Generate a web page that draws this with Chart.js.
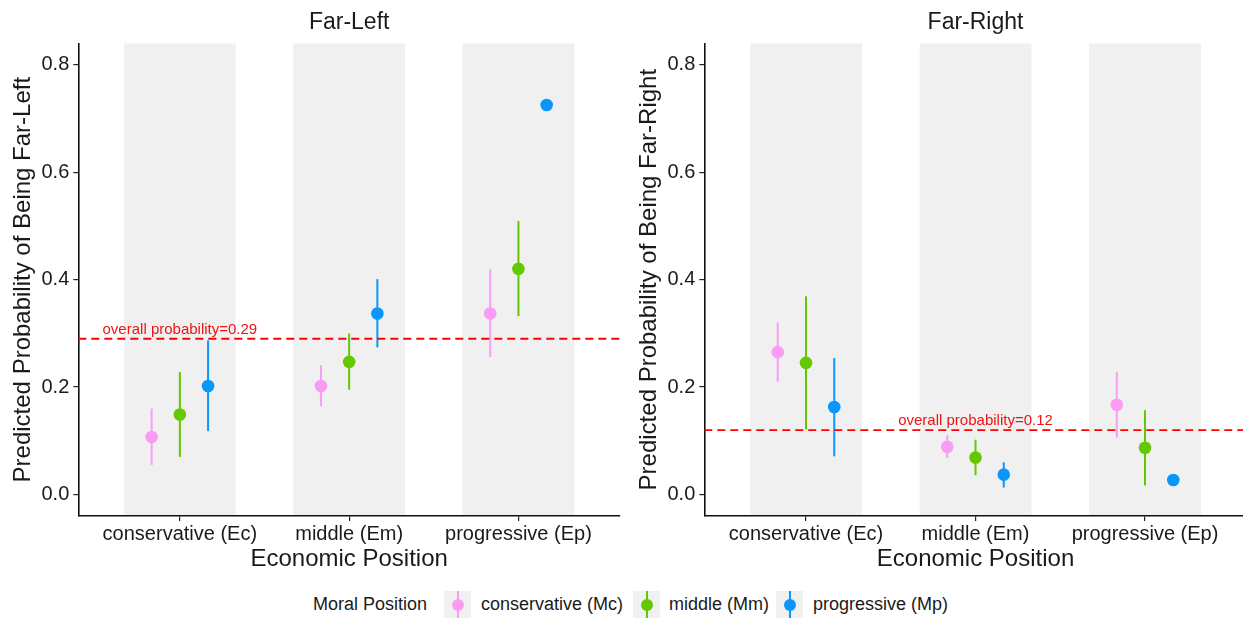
<!DOCTYPE html>
<html>
<head>
<meta charset="utf-8">
<title>Predicted probability by economic and moral position</title>
<script src="https://cdn.jsdelivr.net/npm/chart.js@4/dist/chart.umd.min.js"></script>
<style>
  html, body { margin: 0; padding: 0; background: #fff; }
  #wrap { position: relative; width: 1243px; height: 618px; overflow: hidden;
          font-family: "Liberation Sans", Arial, sans-serif; color: #1a1a1a; }
  #wrap canvas { position: absolute; top: 0; }
  #cvL { left: 0; }
  #cvR { left: 626px; }
  .lg-text { position: absolute; top: 591px; height: 27px; line-height: 27px;
             font-size: 18px; white-space: nowrap; }
  .lg-key { position: absolute; top: 591px; width: 27px; height: 27px; background: #F0F0F0; }
  .lg-key i { position: absolute; left: 12.5px; top: 0; width: 2px; height: 27px; }
  .lg-key b { position: absolute; left: 7.5px; top: 7.5px; width: 12px; height: 12px; border-radius: 50%; }
</style>
</head>
<body>
<div id="wrap">
  <canvas id="cvL" width="625" height="580"></canvas>
  <canvas id="cvR" width="617" height="580"></canvas>
</div>
<script>
// ---- data ----
const categories = ['conservative (Ec)', 'middle (Em)', 'progressive (Ep)'];
const moralGroups = ['conservative (Mc)', 'middle (Mm)', 'progressive (Mp)'];
const moralColors = ['#F99CF3', '#64C800', '#0A96FA'];
const yTicks = [0, 0.2, 0.4, 0.6, 0.8];

// Far-Left: estimate, lower and upper bound per economic position, one set per moral group
const farLeftMc   = [0.107, 0.202, 0.337];
const farLeftMcLo = [0.055, 0.164, 0.256];
const farLeftMcHi = [0.160, 0.241, 0.419];
const farLeftMm   = [0.149, 0.247, 0.420];
const farLeftMmLo = [0.070, 0.195, 0.332];
const farLeftMmHi = [0.228, 0.300, 0.509];
const farLeftMp   = [0.202, 0.337, 0.725];
const farLeftMpLo = [0.118, 0.274, 0.717];
const farLeftMpHi = [0.287, 0.401, 0.733];
const farLeftOverall = 0.29;

// Far-Right
const farRightMc   = [0.265, 0.089, 0.167];
const farRightMcLo = [0.210, 0.068, 0.106];
const farRightMcHi = [0.320, 0.110, 0.228];
const farRightMm   = [0.245, 0.069, 0.087];
const farRightMmLo = [0.121, 0.036, 0.017];
const farRightMmHi = [0.369, 0.102, 0.157];
const farRightMp   = [0.163, 0.037, 0.027];
const farRightMpLo = [0.071, 0.013, 0.020];
const farRightMpHi = [0.254, 0.060, 0.034];
const farRightOverall = 0.12;

// ---- layout constants ----
const FONT = '"Liberation Sans", Arial, sans-serif';
const INK = '#1a1a1a';
const DODGE = [-1 / 6, 0, 1 / 6];
const BAND_HALF = 0.33;
const X_MIN = 0.4;

Chart.defaults.font.family = FONT;

// shaded bands behind each economic position, error bars and panel texts
const panelDecor = {
  id: 'panelDecor',
  beforeDraw(chart) {
    const { ctx, chartArea: a, scales: { x } } = chart;
    ctx.save();
    ctx.beginPath();
    ctx.rect(a.left, a.top, a.width, a.height);
    ctx.clip();
    ctx.fillStyle = '#F0F0F0';
    categories.forEach((c, i) => {
      const l = x.getPixelForValue(i + 1 - BAND_HALF);
      const r = x.getPixelForValue(i + 1 + BAND_HALF);
      ctx.fillRect(l, a.top, r - l, a.bottom - a.top - 1);
    });
    ctx.restore();
  },
  beforeDatasetsDraw(chart) {
    const { ctx, scales: { x, y } } = chart;
    ctx.save();
    ctx.lineWidth = 2;
    chart.data.datasets.forEach(ds => {
      if (!ds.lo) return;
      ctx.strokeStyle = ds.pointBackgroundColor;
      ds.data.forEach((p, j) => {
        const px = x.getPixelForValue(p.x);
        ctx.beginPath();
        ctx.moveTo(px, y.getPixelForValue(ds.lo[j]));
        ctx.lineTo(px, y.getPixelForValue(ds.hi[j]));
        ctx.stroke();
      });
    });
    ctx.restore();
  },
  afterDraw(chart, args, o) {
    const { ctx, chartArea: a, scales: { x, y } } = chart;
    const cx = x.getPixelForValue(2);
    ctx.save();
    ctx.fillStyle = INK;
    ctx.textAlign = 'center';
    ctx.textBaseline = 'alphabetic';
    ctx.font = '23px ' + FONT;
    ctx.fillText(o.title, cx, 29.3);
    ctx.font = '24px ' + FONT;
    ctx.fillText(o.xTitle, cx, a.bottom + 49.7);
    ctx.save();
    ctx.translate(a.left - 48.3, (a.top + a.bottom) / 2);
    ctx.rotate(-Math.PI / 2);
    ctx.fillText(o.yTitle, 0, 0);
    ctx.restore();
    ctx.fillStyle = '#F01414';
    ctx.font = '15px ' + FONT;
    ctx.fillText('overall probability=' + o.overall.toFixed(2),
                 x.getPixelForValue(o.noteAt), y.getPixelForValue(o.overall) - 5);
    ctx.restore();
  }
};

function axisStyle() {
  return {
    grid: { display: true, drawOnChartArea: false, drawTicks: true, tickLength: 5,
            color: '#222', lineWidth: 1.2 },
    border: { display: true, color: '#111', width: 1.6 }
  };
}

// the plot area is fixed, so label overhang must not shrink it
function noOverhang(s) {
  s.paddingLeft = 0; s.paddingRight = 0; s.paddingTop = 0; s.paddingBottom = 0;
}

function buildPanel(id, spec) {
  const datasets = [{
    type: 'line',
    label: 'overall',
    data: [{ x: X_MIN, y: spec.overall }, { x: spec.xMax, y: spec.overall }],
    borderColor: '#FF0000',
    borderWidth: 1.8,
    borderDash: [8, 5],
    pointRadius: 0,
    order: 10
  }];
  spec.series.forEach((s, i) => {
    datasets.push({
      type: 'scatter',
      label: moralGroups[i],
      data: s.est.map((v, j) => ({ x: j + 1 + DODGE[i], y: v })),
      lo: s.lo,
      hi: s.hi,
      pointRadius: 6.3,
      pointBackgroundColor: moralColors[i],
      pointBorderWidth: 0,
      order: 1
    });
  });

  return new Chart(document.getElementById(id), {
    data: { datasets },
    options: {
      responsive: false,
      animation: false,
      events: [],
      layout: { autoPadding: false, padding: { top: 43.3, right: spec.padRight, bottom: 0, left: 0 } },
      plugins: {
        legend: { display: false },
        tooltip: { enabled: false },
        panelDecor: {
          title: spec.title, xTitle: 'Economic Position', yTitle: spec.yTitle,
          overall: spec.overall, noteAt: spec.noteAt
        }
      },
      scales: {
        x: Object.assign({
          type: 'linear',
          min: X_MIN,
          max: spec.xMax,
          afterBuildTicks: s => { s.ticks = categories.map((c, i) => ({ value: i + 1 })); },
          afterFit: s => { s.height = 64; noOverhang(s); },
          ticks: {
            callback: v => categories[Math.round(v) - 1],
            font: { size: 20 }, color: INK, padding: 1,
            maxRotation: 0, minRotation: 0, autoSkip: false
          }
        }, axisStyle()),
        y: Object.assign({
          type: 'linear',
          min: -0.04,
          max: 0.84,
          afterBuildTicks: s => { s.ticks = yTicks.map(v => ({ value: v })); },
          afterFit: s => { s.width = 78.3; noOverhang(s); },
          ticks: {
            callback: v => Number(v).toFixed(1),
            font: { size: 20 }, color: INK, padding: 4
          }
        }, axisStyle())
      }
    },
    plugins: [panelDecor]
  });
}

buildPanel('cvL', {
  title: 'Far-Left',
  yTitle: 'Predicted Probability of Being Far-Left',
  overall: farLeftOverall,
  noteAt: 1,
  xMax: 3.6,
  padRight: 5,
  series: [
    { est: farLeftMc, lo: farLeftMcLo, hi: farLeftMcHi },
    { est: farLeftMm, lo: farLeftMmLo, hi: farLeftMmHi },
    { est: farLeftMp, lo: farLeftMpLo, hi: farLeftMpHi }
  ]
});

buildPanel('cvR', {
  title: 'Far-Right',
  yTitle: 'Predicted Probability of Being Far-Right',
  overall: farRightOverall,
  noteAt: 2,
  xMax: 3.578,
  padRight: 0,
  series: [
    { est: farRightMc, lo: farRightMcLo, hi: farRightMcHi },
    { est: farRightMm, lo: farRightMmLo, hi: farRightMmHi },
    { est: farRightMp, lo: farRightMpLo, hi: farRightMpHi }
  ]
});

// shared legend for the moral position groups
(function buildLegend() {
  const wrap = document.getElementById('wrap');
  const title = document.createElement('div');
  title.className = 'lg-text';
  title.style.left = '313px';
  title.textContent = 'Moral Position';
  wrap.appendChild(title);
  const keyLeft = [444, 633, 776];
  const textLeft = [481, 669, 813];
  moralGroups.forEach((g, i) => {
    const key = document.createElement('div');
    key.className = 'lg-key';
    key.style.left = keyLeft[i] + 'px';
    const stem = document.createElement('i');
    stem.style.background = moralColors[i];
    const dot = document.createElement('b');
    dot.style.background = moralColors[i];
    key.appendChild(stem);
    key.appendChild(dot);
    wrap.appendChild(key);
    const t = document.createElement('div');
    t.className = 'lg-text';
    t.style.left = textLeft[i] + 'px';
    t.textContent = g;
    wrap.appendChild(t);
  });
})();
</script>
</body>
</html>
